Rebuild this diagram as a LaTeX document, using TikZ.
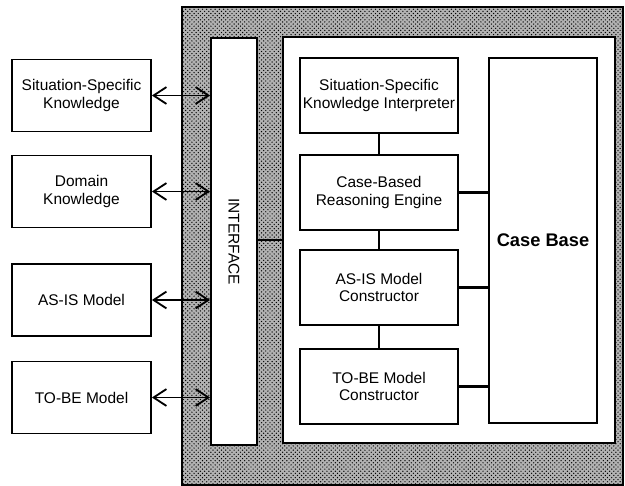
\documentclass[tikz,border=0pt]{standalone}
\usepackage{fontspec}
\setmainfont{Liberation Sans}
\usetikzlibrary{arrows.meta,patterns}

\begin{document}
\begin{tikzpicture}[x=0.025cm, y=-0.025cm, line width=1.3pt,
    font=\fontsize{11}{12.5}\selectfont,
    srcbox/.style={draw, fill=white, minimum width=3.475cm, minimum height=1.8cm,
                   align=center, inner xsep=1pt},
    modbox/.style={draw, fill=white, minimum width=3.95cm, minimum height=1.875cm,
                   align=center, inner xsep=1pt},
    link/.style={line width=1.8pt},
    >={Straight Barb[length=3.2mm,width=4.2mm]}]
  % x, y: pixels of the 625 x 486 figure, y growing downwards.
  \useasboundingbox (0,0) rectangle (625,486);

  % speckled frame round the system
  \fill[black!30] (182,7) rectangle (623,485);
  \draw[pattern=crosshatch dots, pattern color=black] (182,7) rectangle (623,485);

  % interface strip and system core
  \node[draw, fill=white, minimum width=1.15cm, minimum height=10.175cm] (iface) at (234,241.5) {};
  \node[rotate=-90] (ifacelbl) at (iface) {INTERFACE};
  \node[draw, fill=white, minimum width=8.3cm, minimum height=10.15cm] (core) at (449,240) {};

  % knowledge sources (left)
  \node[srcbox] (ssk) at (81.5,95.5)  {Situation-Specific\\Knowledge};
  \node[srcbox] (dk)  at (81.5,191.5) {Domain\\Knowledge};
  \node[srcbox] (asm) at (81.5,300)   {AS-IS Model};
  \node[srcbox] (tbm) at (81.5,397.5) {TO-BE Model};

  % modules inside the core
  \node[modbox] (ssi) at (379,95.5)  {Situation-Specific\\Knowledge Interpreter};
  \node[modbox] (cbr) at (379,192.5) {Case-Based\\Reasoning Engine};
  \node[modbox] (asc) at (379,287.5) {AS-IS Model\\Constructor};
  \node[modbox] (tbc) at (379,386.5) {TO-BE Model\\Constructor};
  \node[draw, fill=white, minimum width=2.7cm, minimum height=9.125cm,
        font=\fontsize{13}{15}\selectfont\bfseries] (cb) at (543,240.5) {Case Base};

  % two-way links to the interface
  \foreach \src in {ssk,dk,asm,tbm}
    \draw[<->] (\src.east) -- (\src.east -| iface.west);

  % internal links
  \draw[link] (iface.east |- core.west) -- (core.west);
  \draw[link] (ssi.south) -- (cbr.north);
  \draw[link] (cbr.south) -- (asc.north);
  \draw[link] (asc.south) -- (tbc.north);
  \foreach \mod in {cbr,asc,tbc}
    \draw[link] (\mod.east) -- (\mod.east -| cb.west);
\end{tikzpicture}
\end{document}
